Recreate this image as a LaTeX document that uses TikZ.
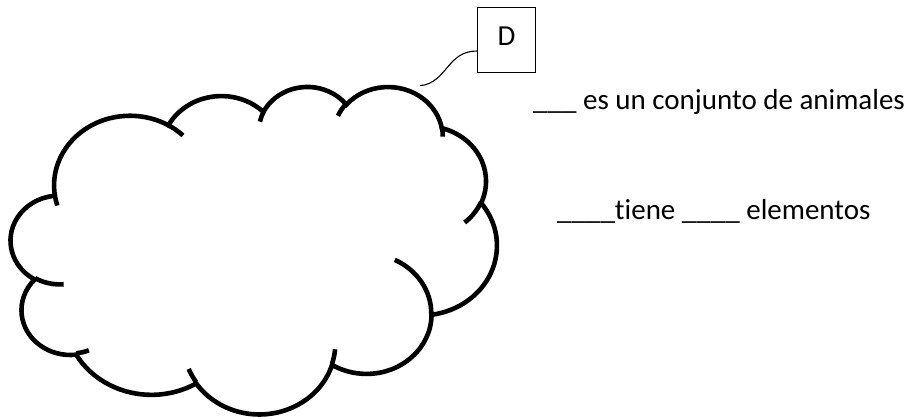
\documentclass[tikz,border=0pt]{standalone}
\usepackage{fontspec}
\setmainfont[Ligatures=NoCommon]{Carlito}
\makeatletter
% OOXML arcTo -> TikZ arc: visual angles converted to parametric ones
\newcommand\ooDefArc[5]{%
  \pgfmathsetmacro\oo@a{#4}%
  \pgfmathsetmacro\oo@b{#4+#5}%
  \pgfmathsetmacro\oo@s{\oo@a+mod(atan2((#2)*sin(\oo@a),(#3)*cos(\oo@a))-(\oo@a)+900,360)-180}%
  \pgfmathsetmacro\oo@e{\oo@b+mod(atan2((#2)*sin(\oo@b),(#3)*cos(\oo@b))-(\oo@b)+900,360)-180}%
  \expandafter\global\expandafter\let\csname ooS#1\endcsname\oo@s
  \expandafter\global\expandafter\let\csname ooE#1\endcsname\oo@e
  \expandafter\gdef\csname ooX#1\endcsname{#2}%
  \expandafter\gdef\csname ooY#1\endcsname{#3}%
}
\makeatother
\tikzset{
  ooarc/.style={insert path={arc[start angle=\csname ooS#1\endcsname,
      end angle=\csname ooE#1\endcsname,
      x radius=\csname ooX#1\endcsname, y radius=\csname ooY#1\endcsname]}},
  cloudline/.style={draw=black, line width=4.6pt},
  txt/.style={font=\fontsize{29}{34}\selectfont, inner sep=0pt, anchor=base west},
  boxD/.style={draw=black, line width=1.1pt, minimum width=58.4pt, minimum height=65.4pt,
      inner sep=0pt, text depth=7pt, font=\fontsize{29}{34}\selectfont},
  conn/.style={draw=black, line width=1.1pt}
}
\begin{document}
\begin{tikzpicture}[x=1pt, y=-1pt]
\fill[white] (0,0) rectangle (913,420);
\useasboundingbox (0,0) rectangle (913,420);
% main outline arcs
\ooDefArc{a}{67.53}{91.90}{-190.4875}{123.7805}
\ooDefArc{b}{53.33}{72.67}{-144.1024}{89.9452}
\ooDefArc{c}{43.65}{59.45}{-145.8079}{99.7230}
\ooDefArc{d}{48.57}{65.95}{-130.9861}{117.2417}
\ooDefArc{e}{53.33}{72.73}{-78.7089}{109.0269}
\ooDefArc{f}{67.75}{92.20}{-46.2673}{130.2690}
\ooDefArc{g}{57.85}{78.67}{0.6250}{114.0333}
\ooDefArc{h}{67.52}{92.15}{22.4516}{115.1726}
\ooDefArc{i}{77.20}{105.43}{66.2426}{75.7110}
\ooDefArc{j}{43.60}{59.18}{-274.9421}{146.7356}
\ooDefArc{k}{43.45}{59.45}{-246.8285}{152.5189}
% inner stubs
\ooDefArc{l}{43.45}{59.45}{86.7420}{26.4295}
\ooDefArc{m}{43.60}{59.18}{73.6105}{11.4475}
\ooDefArc{n}{67.52}{92.15}{137.6242}{14.0811}
\ooDefArc{o}{67.52}{92.15}{6.4533}{15.9984}
\ooDefArc{p}{57.85}{78.67}{-70.2924}{70.9174}
\ooDefArc{q}{53.33}{72.73}{30.3180}{27.7515}
\ooDefArc{r}{48.57}{65.95}{-13.7443}{14.8604}
\ooDefArc{s}{48.57}{65.95}{-149.1815}{18.1880}
\ooDefArc{t}{43.65}{59.45}{-163.4943}{17.6999}
\ooDefArc{u}{67.53}{91.90}{-66.7070}{12.3194}
\ooDefArc{v}{67.53}{91.90}{157.6544}{11.8582}
\begin{scope}[shift={(10.9,85.9)}, x=1.1246pt, y=-0.7578pt]
  \draw[cloudline] (39.00,143.70) [ooarc=a] [ooarc=b] [ooarc=c] [ooarc=d] [ooarc=e]
     [ooarc=f] [ooarc=g] [ooarc=h] [ooarc=i] [ooarc=j] [ooarc=k] -- cycle;
  \draw[cloudline] (46.93,261.77) [ooarc=l]
     (69.28,348.99) [ooarc=m]
     (164.78,390.90) [ooarc=n]
     (288.27,347.51) [ooarc=o]
     (341.29,229.54) [ooarc=p]
     (417.98,153.54) [ooarc=q]
     (383.24,54.26) [ooarc=r]
     (290.78,39.52) [ooarc=s]
     (221.41,47.20) [ooarc=t]
     (140.00,51.92) [ooarc=u]
     (41.27,157.89) [ooarc=v];
\end{scope}
\node[boxD] (D) at (506.5,40) {D};
\coordinate (c0) at (420,85.7);
\draw[conn] (c0) .. controls (447,83) and (447,51) .. ([yshift=-11pt]D.west);
\node[txt] (t1) at (533,109.3) {\_\_\_ es un conjunto de animales};
\node[txt] (t2) at (557,219.3) {\_\_\_\_tiene \_\_\_\_ elementos};
\end{tikzpicture}
\end{document}
